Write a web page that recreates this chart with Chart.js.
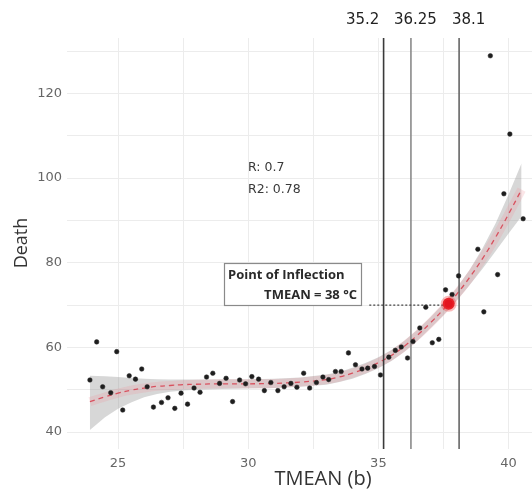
<!DOCTYPE html>
<html>
<head>
<meta charset="utf-8">
<script src="https://cdn.jsdelivr.net/npm/chart.js@4/dist/chart.umd.min.js"></script>
<style>
html,body{margin:0;padding:0;background:#fff;}
#wrap{width:532px;height:497px;position:relative;}
</style>
</head>
<body>
<div id="wrap"><canvas id="c" width="532" height="497"></canvas></div>
<script>
// ---- data ----
const pointsT = [23.92,24.18,24.41,24.72,24.95,25.18,25.43,25.67,25.91,26.12,26.36,26.67,26.92,27.18,27.42,27.67,27.92,28.15,28.40,28.64,28.90,29.15,29.40,29.67,29.90,30.14,30.40,30.62,30.87,31.14,31.38,31.64,31.87,32.13,32.36,32.62,32.87,33.09,33.35,33.57,33.85,34.12,34.37,34.59,34.85,35.08,35.40,35.65,35.88,36.12,36.33,36.59,36.82,37.07,37.32,37.58,37.83,38.08,38.82,39.05,39.30,39.58,39.82,40.05,40.56];
const pointsDeath = [52.3,61.3,50.7,49.3,59.0,45.2,53.3,52.5,54.9,50.7,45.9,47.0,48.1,45.6,49.2,46.6,50.4,49.4,53.0,53.9,51.5,52.7,47.2,52.3,51.4,53.1,52.5,49.8,51.7,49.8,50.7,51.5,50.6,53.9,50.4,51.7,53.0,52.4,54.3,54.3,58.7,55.9,54.9,55.1,55.5,53.5,57.7,59.3,60.1,57.5,61.4,64.6,69.5,61.1,61.9,73.6,72.5,76.9,83.2,68.4,128.9,77.2,96.3,110.4,90.4];

const fitT     = [23.92,24.5,25,25.5,26,26.5,27,27.5,28,29,30,31,32,33,33.5,34,34.5,35,35.5,36,36.5,37,37.5,38,38.5,39,39.5,40,40.5];
const fitDeath = [47.2,48.3,49.2,49.9,50.4,50.8,51.0,51.2,51.3,51.4,51.4,51.5,51.8,52.4,53.0,53.9,55.0,56.4,58.1,60.3,62.9,65.8,69.0,72.5,76.5,81.0,86.0,91.5,97.3];
const fitLower = [40.5,43.5,45.5,47.0,48.2,49.0,49.5,49.8,50.0,50.2,50.3,50.4,50.7,51.2,51.8,52.6,53.7,55.1,56.8,59.0,61.6,64.5,67.6,71.0,74.7,78.6,82.7,86.9,91.0];
const fitUpper = [53.3,53.2,53.0,52.8,52.6,52.5,52.4,52.4,52.4,52.5,52.5,52.6,52.9,53.6,54.2,55.2,56.3,57.7,59.4,61.6,64.2,67.1,70.4,74.0,78.3,83.4,89.3,96.1,103.5];

const thresholdT = [35.2, 36.25, 38.1];
const thresholdLabels = ["35.2", "36.25", "38.1"];
const inflectionT = [37.7];
const inflectionDeath = [70.3];
const guideT = [34.65, 37.7];
const guideDeath = [70, 70];

const xTickValues = [25, 27.5, 30, 32.5, 35, 37.5, 40];
const xTickLabels = ["25", "", "30", "", "35", "", "40"];
const yTickValues = [40, 50, 60, 70, 80, 90, 100, 110, 120, 130];
const yTickLabels = ["40", "", "60", "", "80", "", "100", "", "120", ""];

const statLines = ["R: 0.7", "R2: 0.78"];
const boxLines = ["Point of Inflection", "TMEAN = 38 °C"];
const xTitle = "TMEAN (b)";
const yTitle = "Death";

// ---- datasets ----
const toXY = (xs, ys) => xs.map((x, i) => ({x: x, y: ys[i]}));
const datasets = [];
datasets.push({label:'lower', data: toXY(fitT, fitLower), showLine:true, borderWidth:0, borderColor:'rgba(0,0,0,0)', pointRadius:0, fill:false, order:10});
datasets.push({label:'upper', data: toXY(fitT, fitUpper), showLine:true, borderWidth:0, borderColor:'rgba(0,0,0,0)', pointRadius:0, fill:'-1', backgroundColor:'rgba(150,150,150,0.38)', order:9});
datasets.push({label:'fitGlow', data: toXY(fitT, fitDeath), showLine:true, borderWidth:9, borderColor:'rgba(235,140,150,0.22)', pointRadius:0, tension:0.4, order:8});
datasets.push({label:'fit', data: toXY(fitT, fitDeath), showLine:true, borderWidth:1.3, borderColor:'rgba(215,60,75,0.85)', borderDash:[5,4], pointRadius:0, tension:0.4, order:7});
const vColors = ['#3a3a3a', '#8a8a8a', '#666666'];
thresholdT.forEach((t, i) => {
  datasets.push({label:'v'+i, data:[{x:t, y:36}, {x:t, y:133.1}], showLine:true, borderWidth:1.6, borderColor:vColors[i], pointRadius:0, order:6});
});
datasets.push({label:'guide', data: toXY(guideT, guideDeath), showLine:true, borderWidth:1.2, borderColor:'#444', borderDash:[2,2], pointRadius:0, order:5});
datasets.push({label:'points', data: toXY(pointsT, pointsDeath), showLine:false, pointRadius:2.3, pointBackgroundColor:'#1e1e1e', pointBorderColor:'rgba(40,40,40,0.5)', pointBorderWidth:1, order:4});
datasets.push({label:'inflection', data: toXY(inflectionT, inflectionDeath), showLine:false, pointRadius:6, pointBackgroundColor:'#e3141e', pointBorderColor:'rgba(240,60,60,0.35)', pointBorderWidth:4, order:3});

const annot = {
  id: 'annot',
  afterDraw(chart) {
    const ctx = chart.ctx;
    const xs = chart.scales.x, ys = chart.scales.y;
    ctx.save();
    // threshold labels on top
    const offs = [-21, 4.5, 9.5];
    ctx.font = '15px "DejaVu Sans"';
    ctx.fillStyle = '#222';
    ctx.textAlign = 'center';
    ctx.textBaseline = 'middle';
    thresholdT.forEach((t, i) => {
      ctx.fillText(thresholdLabels[i], xs.getPixelForValue(t) + offs[i], 20);
    });
    // stat text
    ctx.font = '12.5px "DejaVu Sans"';
    ctx.fillStyle = '#3a3a3a';
    ctx.textAlign = 'left';
    ctx.fillText(statLines[0], 248, 168);
    ctx.fillText(statLines[1], 248, 190);
    // box
    ctx.fillStyle = '#fff';
    ctx.fillRect(224.5, 263.5, 137, 42);
    ctx.strokeStyle = '#8a8a8a';
    ctx.lineWidth = 1.2;
    ctx.strokeRect(224.5, 263.5, 137, 42);
    ctx.fillStyle = '#2a2a2a';
    ctx.font = 'bold 13px "Open Sans"';
    ctx.textAlign = 'left';
    ctx.fillText(boxLines[0], 228, 275, 130);
    ctx.textAlign = 'right';
    ctx.fillText(boxLines[1], 357, 295, 120);
    // axis titles
    ctx.fillStyle = '#333';
    ctx.font = '20px "Open Sans"';
    ctx.textAlign = 'center';
    ctx.fillText(xTitle, 323, 479);
    ctx.translate(22, 243);
    ctx.rotate(-Math.PI/2);
    ctx.font = '18px "Open Sans"';
    ctx.fillText(yTitle, 0, 0);
    ctx.restore();
  }
};

new Chart(document.getElementById('c'), {
  type: 'scatter',
  data: { datasets },
  options: {
    responsive: false,
    animation: false,
    events: [],
    layout: { autoPadding: false, padding: { top: 38, right: 0, left: 0, bottom: 0 } },
    plugins: { legend: { display: false }, tooltip: { enabled: false } },
    scales: {
      x: {
        type: 'linear', min: 23.04, max: 40.9,
        afterBuildTicks: (s) => { s.ticks = xTickValues.map(v => ({value: v})); },
        afterFit: (s) => { s.height = 48; s.paddingLeft = 0; s.paddingRight = 0; },
        ticks: {
          autoSkip: false, maxRotation: 0, padding: 7,
          color: '#666', font: { family: 'DejaVu Sans', size: 13 },
          callback: (v) => { const i = xTickValues.indexOf(v); return i >= 0 ? xTickLabels[i] : ''; }
        },
        grid: { color: '#ececec', lineWidth: 1, drawTicks: false },
        border: { display: false }
      },
      y: {
        type: 'linear', min: 36, max: 133.1,
        afterBuildTicks: (s) => { s.ticks = yTickValues.map(v => ({value: v})); },
        afterFit: (s) => { s.width = 67; s.paddingTop = 0; s.paddingBottom = 0; },
        ticks: {
          autoSkip: false, padding: 5,
          color: '#666', font: { family: 'DejaVu Sans', size: 13 },
          callback: (v) => { const i = yTickValues.indexOf(v); return i >= 0 ? yTickLabels[i] : ''; }
        },
        grid: { color: '#ececec', lineWidth: 1, drawTicks: false },
        border: { display: false }
      }
    }
  },
  plugins: [annot]
});
</script>
</body>
</html>
